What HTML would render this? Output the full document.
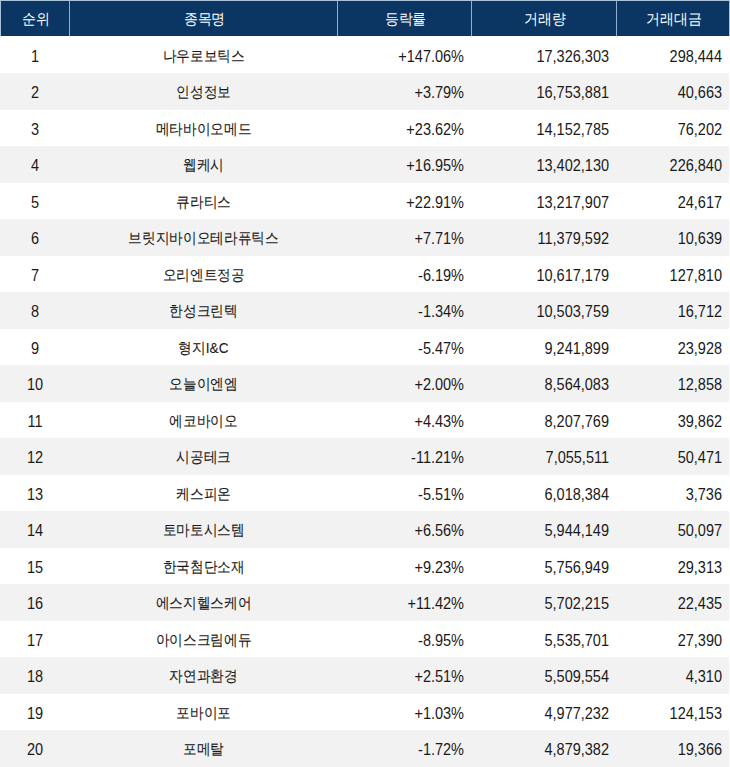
<!DOCTYPE html><html lang="ko"><head><meta charset="utf-8"><style>
html,body{margin:0;padding:0;background:#fff;}
body{width:730px;height:767px;overflow:hidden;position:relative;font-family:"Liberation Sans",sans-serif;}
.wrap{position:absolute;left:0;top:0;width:730px;height:767px;background:#fff;}
.hdr{position:absolute;left:0;top:0;width:730px;height:36px;background:#0b3563;border-top:1px solid #a9c2da;border-left:1px solid #a9c2da;border-right:1px solid #a9c2da;box-sizing:border-box;}
.hdr .c{color:#fff;top:0px;height:35px;line-height:35px;font-size:15px;transform:scaleX(0.93);transform-origin:center center;}
.row{position:absolute;left:0;width:729px;height:36.5px;}
.row.g{background:#f2f2f2;}
.c{position:absolute;top:0;height:36.5px;line-height:36.5px;color:#1a1a1a;white-space:nowrap;}
.n{font-size:16px;transform:scaleX(0.906);top:2px;}
.k{font-size:15px;top:1px;transform:scaleX(0.91);-webkit-text-stroke:0.1px #1a1a1a;}
.c1{left:1px;width:68px;text-align:center;}
.c2{left:70px;width:267px;text-align:center;}
.c3{left:338px;width:126px;text-align:right;transform-origin:right center;}
.c4{left:472px;width:137px;text-align:right;transform-origin:right center;}
.c5{left:617px;width:105px;text-align:right;transform-origin:right center;}
.hdr .c3,.hdr .c4,.hdr .c5{text-align:center;}
.hdr .c3{width:133px}.hdr .c4{width:144px}.hdr .c5{width:112px}
.hdr .sep{position:absolute;top:0;width:1px;height:35px;background:#8fb0d0;}

</style></head><body><div class="wrap">
<div class="hdr"><div class="c c1">순위</div><div class="c c2">종목명</div><div class="c c3">등락률</div><div class="c c4">거래량</div><div class="c c5">거래대금</div><div class="sep" style="left:68px"></div><div class="sep" style="left:336px"></div><div class="sep" style="left:470px"></div><div class="sep" style="left:615px"></div></div>
<div class="row" style="top:36.5px"><div class="c c1 n">1</div><div class="c c2 k">나우로보틱스</div><div class="c c3 n">+147.06%</div><div class="c c4 n">17,326,303</div><div class="c c5 n">298,444</div></div>
<div class="row g" style="top:73.0px"><div class="c c1 n">2</div><div class="c c2 k">인성정보</div><div class="c c3 n">+3.79%</div><div class="c c4 n">16,753,881</div><div class="c c5 n">40,663</div></div>
<div class="row" style="top:109.5px"><div class="c c1 n">3</div><div class="c c2 k">메타바이오메드</div><div class="c c3 n">+23.62%</div><div class="c c4 n">14,152,785</div><div class="c c5 n">76,202</div></div>
<div class="row g" style="top:146.0px"><div class="c c1 n">4</div><div class="c c2 k">웹케시</div><div class="c c3 n">+16.95%</div><div class="c c4 n">13,402,130</div><div class="c c5 n">226,840</div></div>
<div class="row" style="top:182.5px"><div class="c c1 n">5</div><div class="c c2 k">큐라티스</div><div class="c c3 n">+22.91%</div><div class="c c4 n">13,217,907</div><div class="c c5 n">24,617</div></div>
<div class="row g" style="top:219.0px"><div class="c c1 n">6</div><div class="c c2 k">브릿지바이오테라퓨틱스</div><div class="c c3 n">+7.71%</div><div class="c c4 n">11,379,592</div><div class="c c5 n">10,639</div></div>
<div class="row" style="top:255.5px"><div class="c c1 n">7</div><div class="c c2 k">오리엔트정공</div><div class="c c3 n">-6.19%</div><div class="c c4 n">10,617,179</div><div class="c c5 n">127,810</div></div>
<div class="row g" style="top:292.0px"><div class="c c1 n">8</div><div class="c c2 k">한성크린텍</div><div class="c c3 n">-1.34%</div><div class="c c4 n">10,503,759</div><div class="c c5 n">16,712</div></div>
<div class="row" style="top:328.5px"><div class="c c1 n">9</div><div class="c c2 k">형지I&amp;C</div><div class="c c3 n">-5.47%</div><div class="c c4 n">9,241,899</div><div class="c c5 n">23,928</div></div>
<div class="row g" style="top:365.0px"><div class="c c1 n">10</div><div class="c c2 k">오늘이엔엠</div><div class="c c3 n">+2.00%</div><div class="c c4 n">8,564,083</div><div class="c c5 n">12,858</div></div>
<div class="row" style="top:401.5px"><div class="c c1 n">11</div><div class="c c2 k">에코바이오</div><div class="c c3 n">+4.43%</div><div class="c c4 n">8,207,769</div><div class="c c5 n">39,862</div></div>
<div class="row g" style="top:438.0px"><div class="c c1 n">12</div><div class="c c2 k">시공테크</div><div class="c c3 n">-11.21%</div><div class="c c4 n">7,055,511</div><div class="c c5 n">50,471</div></div>
<div class="row" style="top:474.5px"><div class="c c1 n">13</div><div class="c c2 k">케스피온</div><div class="c c3 n">-5.51%</div><div class="c c4 n">6,018,384</div><div class="c c5 n">3,736</div></div>
<div class="row g" style="top:511.0px"><div class="c c1 n">14</div><div class="c c2 k">토마토시스템</div><div class="c c3 n">+6.56%</div><div class="c c4 n">5,944,149</div><div class="c c5 n">50,097</div></div>
<div class="row" style="top:547.5px"><div class="c c1 n">15</div><div class="c c2 k">한국첨단소재</div><div class="c c3 n">+9.23%</div><div class="c c4 n">5,756,949</div><div class="c c5 n">29,313</div></div>
<div class="row g" style="top:584.0px"><div class="c c1 n">16</div><div class="c c2 k">에스지헬스케어</div><div class="c c3 n">+11.42%</div><div class="c c4 n">5,702,215</div><div class="c c5 n">22,435</div></div>
<div class="row" style="top:620.5px"><div class="c c1 n">17</div><div class="c c2 k">아이스크림에듀</div><div class="c c3 n">-8.95%</div><div class="c c4 n">5,535,701</div><div class="c c5 n">27,390</div></div>
<div class="row g" style="top:657.0px"><div class="c c1 n">18</div><div class="c c2 k">자연과환경</div><div class="c c3 n">+2.51%</div><div class="c c4 n">5,509,554</div><div class="c c5 n">4,310</div></div>
<div class="row" style="top:693.5px"><div class="c c1 n">19</div><div class="c c2 k">포바이포</div><div class="c c3 n">+1.03%</div><div class="c c4 n">4,977,232</div><div class="c c5 n">124,153</div></div>
<div class="row g" style="top:730.0px"><div class="c c1 n">20</div><div class="c c2 k">포메탈</div><div class="c c3 n">-1.72%</div><div class="c c4 n">4,879,382</div><div class="c c5 n">19,366</div></div>
</div></body></html>
